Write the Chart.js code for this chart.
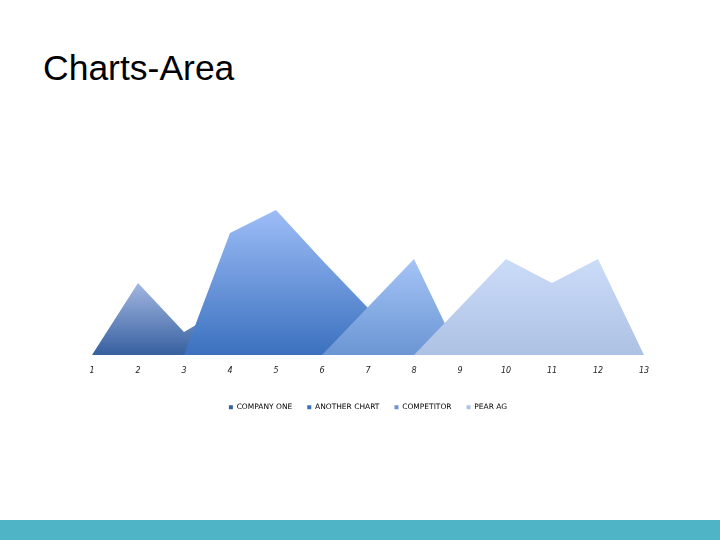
<!DOCTYPE html>
<html>
<head>
<meta charset="utf-8">
<script src="https://cdn.jsdelivr.net/npm/chart.js@4/dist/chart.umd.min.js"></script>
<style>
  body { margin: 0; width: 720px; height: 540px; background: #fff; position: relative; overflow: hidden; }
  #titulo { position: absolute; left: 43px; top: 48px; font-family: "Liberation Sans", Arial, sans-serif; font-size: 35.5px; color: #000; }
  #barra { position: absolute; left: 0; top: 520px; width: 720px; height: 20px; background: #4fb4c6; }
  #caja { position: absolute; left: 0; top: 180px; width: 720px; height: 245px; }
</style>
</head>
<body>
<div id="titulo">Charts-Area</div>
<div id="caja"><canvas id="grafica"></canvas></div>
<div id="barra"></div>
<script>
const etiquetas = ["1", "2", "3", "4", "5", "6", "7", "8", "9", "10", "11", "12", "13"];
const series = ["COMPANY ONE", "ANOTHER CHART", "COMPETITOR", "PEAR AG"];
const companyOne = [0, 72, 23, 50, 0, null, null, null, null, null, null, null, null];
const anotherChart = [null, null, 0, 122, 145, 95, 47, 0, null, null, null, null, null];
const competitor = [null, null, null, null, null, 0, 48, 96, 0, null, null, null, null];
const pearAg = [null, null, null, null, null, null, null, 0, 48, 96, 72, 96, 0];

const colores = [
  ["#a3b7e2", "#37609f"],
  ["#9dbdf7", "#3b71bf"],
  ["#a5c4f7", "#6b96d3"],
  ["#cbdcf8", "#adc1e4"]
];

function degradado(i) {
  return function(ctx) {
    const chart = ctx.chart;
    const area = chart.chartArea;
    if (!area) return colores[i][1];
    const datos = chart.data.datasets[i].data.filter(v => v !== null);
    const tope = chart.scales.y.getPixelForValue(Math.max(...datos));
    const base = chart.scales.y.getPixelForValue(0);
    const g = chart.ctx.createLinearGradient(0, tope, 0, base);
    g.addColorStop(0, colores[i][0]);
    g.addColorStop(1, colores[i][1]);
    return g;
  };
}

const todos = [companyOne, anotherChart, competitor, pearAg];

new Chart(document.getElementById("grafica"), {
  type: "line",
  data: {
    labels: etiquetas,
    datasets: todos.map((d, i) => ({
      label: series[i],
      data: d,
      fill: "origin",
      backgroundColor: degradado(i),
      borderWidth: 0,
      borderColor: "rgba(0,0,0,0)",
      pointRadius: 0,
      tension: 0,
      order: 4 - i
    }))
  },
  options: {
    responsive: true,
    maintainAspectRatio: false,
    animation: false,
    layout: { padding: { left: 92, right: 76, top: 25, bottom: 4 } },
    plugins: {
      tooltip: { enabled: false },
      legend: {
        position: "bottom",
        labels: {
          boxWidth: 4,
          boxHeight: 4,
          padding: 15,
          color: "#a0a0a0",
          font: { family: "DejaVu Sans", size: 7.5 },
          generateLabels: function(chart) {
            return chart.data.datasets.map((ds, i) => ({
              text: ds.label,
              fillStyle: colores[i][1],
              strokeStyle: colores[i][1],
              lineWidth: 0,
              datasetIndex: i
            }));
          }
        }
      }
    },
    scales: {
      x: {
        offset: false,
        grid: { display: false },
        border: { display: false },
        afterFit: function(scale) { scale.height += 10; },
        ticks: {
          color: "#222",
          font: { family: "DejaVu Sans", size: 8, style: "italic" },
          maxRotation: 0,
          padding: 3
        }
      },
      y: {
        display: false,
        min: 0,
        max: 150
      }
    }
  }
});
</script>
</body>
</html>
